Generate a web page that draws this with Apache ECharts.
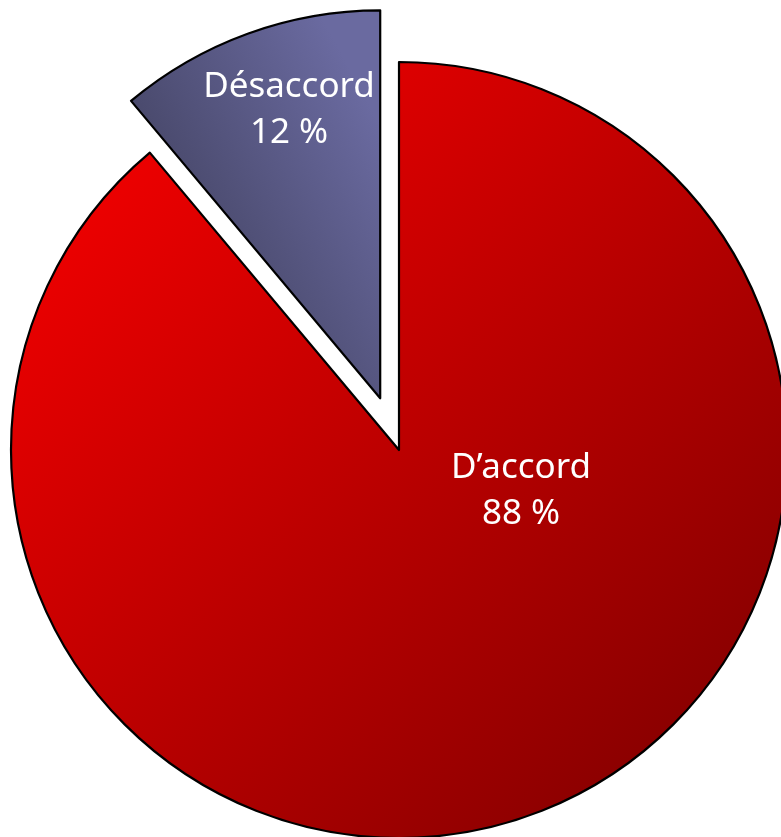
<!DOCTYPE html>
<html>
<head>
<meta charset="utf-8">
<script src="https://cdn.jsdelivr.net/npm/echarts@6/dist/echarts.min.js"></script>
<style>
html,body{margin:0;padding:0;background:#fff;}
#chart{width:781px;height:837px;}
</style>
</head>
<body>
<div id="chart"></div>
<script>
const categories = ['D\u2019accord', 'Désaccord'];
const shares = [88.9, 11.1];          // slice sizes as drawn
const percentLabels = ['88 %', '12 %']; // printed percentages

const cx = 399, cy = 450, R = 388, explode = 55;
const fills = [
  {type:'linear', x:0, y:0, x2:1, y2:1, colorStops:[{offset:0,color:'#ff0000'},{offset:1,color:'#780000'}]},
  {type:'linear', x:0, y:0.65, x2:1, y2:0.3, colorStops:[{offset:0,color:'#3e3e5a'},{offset:1,color:'#6a6aa0'}]}
];
const labelPos = [[521, 491], [289, 110]];

// explode direction of the second slice: mid-angle measured counter-clockwise from 12 o'clock
const total = shares.reduce((a, b) => a + b, 0);
const midAng = (shares[1] / total) * Math.PI;
const cx2 = cx - explode * Math.sin(midAng);
const cy2 = cy - explode * Math.cos(midAng);

function makeSeries(idx, center) {
  return {
    type: 'pie',
    center: center,
    radius: [0, R],
    startAngle: 90,
    clockwise: true,
    silent: true,
    avoidLabelOverlap: false,
    emphasis: {disabled: true},
    labelLine: {show: false},
    label: {
      show: true,
      position: 'inside',
      color: '#ffffff',
      fontFamily: 'Noto Sans',
      fontSize: 35,
      lineHeight: 46,
      align: 'center',
      formatter: p => p.name + '\n' + percentLabels[p.dataIndex]
    },
    labelLayout: p => ({x: labelPos[p.dataIndex][0], y: labelPos[p.dataIndex][1], align: 'center', verticalAlign: 'middle'}),
    data: categories.map((c, i) => ({
      name: c,
      value: shares[i],
      itemStyle: i === idx
        ? {color: fills[i], borderColor: '#000000', borderWidth: 2.2}
        : {color: 'rgba(0,0,0,0)', borderWidth: 0},
      label: {show: i === idx}
    }))
  };
}

const chart = echarts.init(document.getElementById('chart'), null, {renderer: 'canvas'});
chart.setOption({
  animation: false,
  backgroundColor: '#ffffff',
  series: [makeSeries(0, [cx, cy]), makeSeries(1, [cx2, cy2])]
});
</script>
</body>
</html>
